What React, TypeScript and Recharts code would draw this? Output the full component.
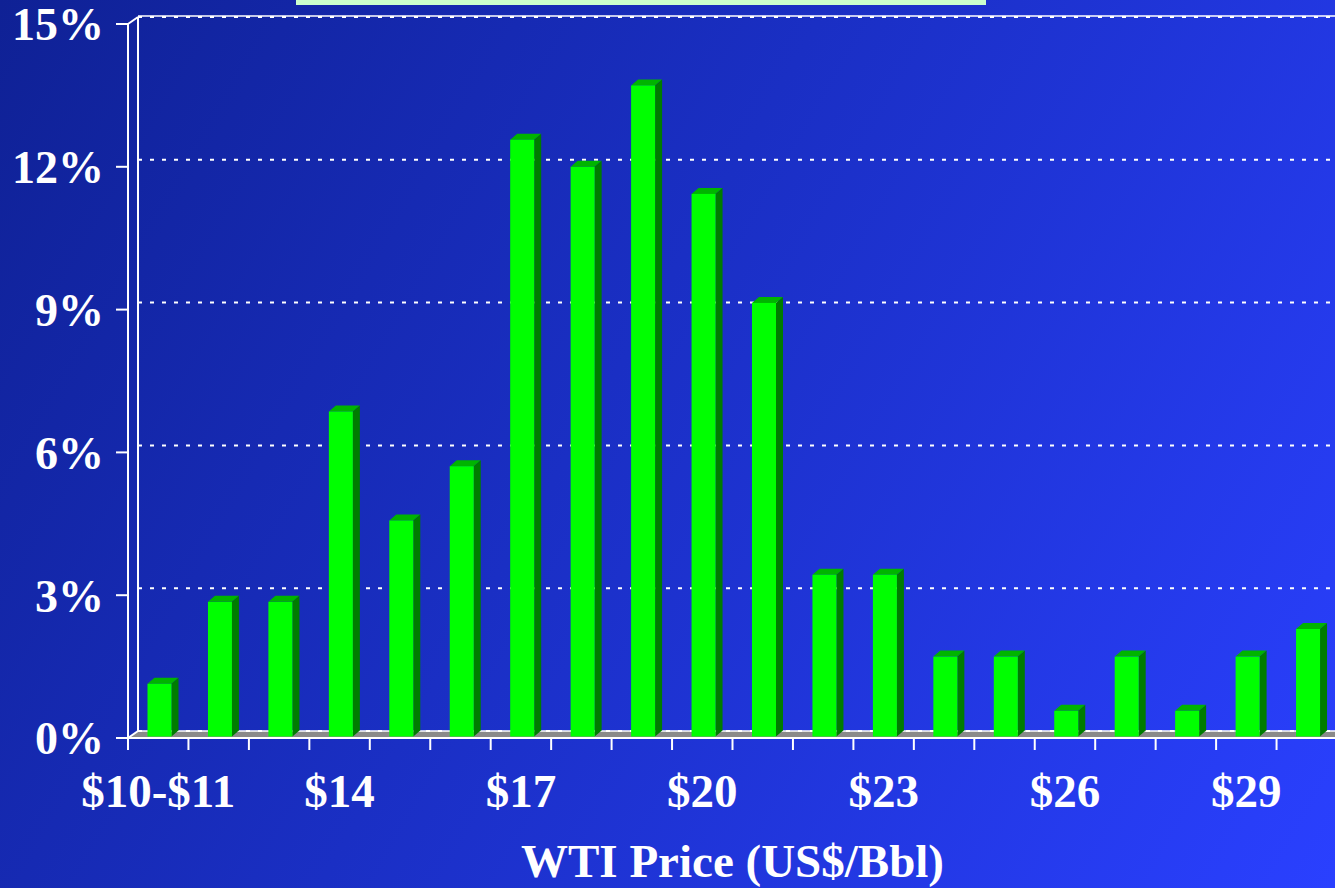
import React from 'react';
import { BarChart, Bar, XAxis, YAxis, CartesianGrid } from 'recharts';

const categories = [
  '$10-$11', '$12', '$13', '$14', '$15', '$16', '$17', '$18', '$19', '$20',
  '$21', '$22', '$23', '$24', '$25', '$26', '$27', '$28', '$29', '$30',
];
const shares = [
  1.14, 2.86, 2.86, 6.86, 4.57, 5.71, 12.57, 12.0, 13.71, 11.43,
  9.14, 3.43, 3.43, 1.71, 1.71, 0.57, 1.71, 0.57, 1.71, 2.29,
];
const yTicks = [0, 3, 6, 9, 12, 15];
const xTitle = 'WTI Price (US$/Bbl)';

const data = categories.map((price, i) => ({ price, share: shares[i] }));

const W = 1335;
const H = 888;
const CHART_W = 1340;
const MARGIN = { top: 24, right: 3, bottom: 0, left: 8 };
const Y_AXIS_W = 120;
const X_AXIS_H = 150;
const PLOT_L = MARGIN.left + Y_AXIS_W;
const PLOT_T = MARGIN.top;
const PLOT_B = H - X_AXIS_H;
const PLOT_W = CHART_W - PLOT_L - MARGIN.right;
const BAND = PLOT_W / categories.length;
const DEPTH_X = 10;
const DEPTH_Y = 7;
const FONT = '"Times New Roman", "Liberation Serif", serif';

function PriceTick(props: any) {
  const { x, y, index, payload } = props;
  const left = x - BAND / 2;
  return (
    <g>
      <line x1={left} y1={y} x2={left} y2={y + 12} stroke="#fff" strokeWidth={2} />
      {index % 3 === 0 && (
        <text x={x} y={y + 69} textAnchor="middle" fill="#fff" fontSize={47} fontWeight="bold" fontFamily={FONT}>
          {payload.value}
        </text>
      )}
    </g>
  );
}

function Bar3D(props: any) {
  const { x, y, width, height } = props;
  if (!height || height <= 0) return null;
  const fx = x + 1.5;
  const dx = 7;
  const dy = 6;
  const bottom = y + height - 1.5;
  return (
    <g>
      <polygon
        points={`${fx},${y} ${fx + dx},${y - dy} ${fx + width + dx},${y - dy} ${fx + width},${y}`}
        fill="#00b400"
      />
      <polygon
        points={`${fx + width},${y} ${fx + width + dx},${y - dy} ${fx + width + dx},${bottom - dy} ${fx + width},${bottom}`}
        fill="#007c00"
      />
      <rect x={fx} y={y} width={width} height={bottom - y} fill="#00ff00" />
    </g>
  );
}

function GridLine(props: any) {
  const { x1, y1, x2, y2 } = props;
  return (
    <line
      x1={x1 + DEPTH_X}
      y1={y1 - DEPTH_Y}
      x2={x2 + DEPTH_X}
      y2={y2 - DEPTH_Y}
      stroke="#fff"
      strokeWidth={2}
      strokeDasharray="4 8"
    />
  );
}

export default function App() {
  const backTop = PLOT_T - DEPTH_Y;
  const backBottom = PLOT_B - DEPTH_Y;
  const backLeft = PLOT_L + DEPTH_X;
  return (
    <div
      style={{
        position: 'fixed',
        left: 0,
        top: 0,
        width: W,
        height: H,
        overflow: 'hidden',
        background: 'linear-gradient(120deg, #0f2195 0%, #1a2fc4 45%, #2a40ff 100%)',
      }}
    >
      <div style={{ position: 'absolute', left: 296, top: 0, width: 690, height: 5, background: '#ccffcc' }} />
      <svg width={CHART_W} height={H} style={{ position: 'absolute', left: 0, top: 0 }}>
        <polygon
          points={`${PLOT_L},${PLOT_B} ${backLeft},${backBottom} ${CHART_W},${backBottom} ${CHART_W},${PLOT_B}`}
          fill="#8a8a8a"
        />
        <line x1={backLeft} y1={backBottom} x2={CHART_W} y2={backBottom} stroke="#fff" strokeWidth={1.5} />
        <line x1={backLeft} y1={backTop} x2={backLeft} y2={backBottom} stroke="#fff" strokeWidth={2} />
        <line x1={backLeft} y1={backTop - 1} x2={CHART_W} y2={backTop - 1} stroke="#fff" strokeWidth={1.5} />
        <line x1={PLOT_L} y1={PLOT_T} x2={backLeft} y2={backTop} stroke="#fff" strokeWidth={2} />
        <line x1={PLOT_L} y1={PLOT_B} x2={backLeft} y2={backBottom} stroke="#fff" strokeWidth={2} />
      </svg>
      <div style={{ position: 'absolute', left: 0, top: 0 }}>
        <BarChart width={CHART_W} height={H} data={data} margin={MARGIN}>
          <CartesianGrid vertical={false} horizontal={GridLine} />
          <XAxis
            dataKey="price"
            interval={0}
            height={X_AXIS_H}
            tickSize={0}
            tickMargin={0}
            tickLine={false}
            axisLine={{ stroke: '#fff', strokeWidth: 2 }}
            tick={PriceTick}
            label={{
              value: xTitle,
              position: 'insideBottom',
              offset: 11,
              fill: '#fff',
              fontSize: 47,
              fontWeight: 'bold',
              fontFamily: FONT,
            }}
          />
          <YAxis
            width={Y_AXIS_W}
            domain={[0, 15]}
            ticks={yTicks}
            interval={0}
            tickSize={12}
            tickMargin={12}
            tickFormatter={(v: number) => `${v}%`}
            axisLine={{ stroke: '#fff', strokeWidth: 2 }}
            tickLine={{ stroke: '#fff', strokeWidth: 2 }}
            tick={{ fill: '#fff', fontSize: 46, fontWeight: 'bold', fontFamily: FONT }}
          />
          <Bar dataKey="share" barSize={24} shape={Bar3D} isAnimationActive={false} />
        </BarChart>
      </div>
    </div>
  );
}
